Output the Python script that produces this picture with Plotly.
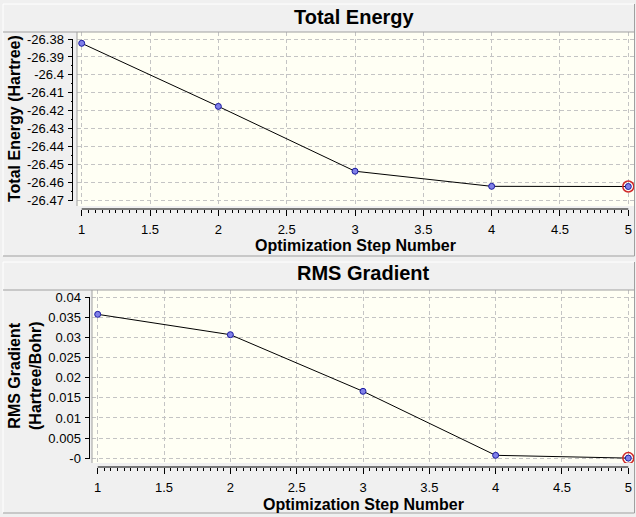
import plotly.graph_objects as go

W, H = 636, 517

steps = [1, 2, 3, 4, 5]
energy = [-26.3824, -26.4175, -26.4536, -26.4620, -26.4621]
rms_grad = [0.0357, 0.03065, 0.01661, 0.00074, 0.00005]

x_tickvals = [1, 1.5, 2, 2.5, 3, 3.5, 4, 4.5, 5]
x_ticktext = ["1", "1.5", "2", "2.5", "3", "3.5", "4", "4.5", "5"]
e_tickvals = [-26.38, -26.39, -26.40, -26.41, -26.42, -26.43, -26.44, -26.45, -26.46, -26.47]
e_ticktext = ["-26.38", "-26.39", "-26.4", "-26.41", "-26.42", "-26.43", "-26.44", "-26.45", "-26.46", "-26.47"]
g_tickvals = [0.04, 0.035, 0.03, 0.025, 0.02, 0.015, 0.01, 0.005, 0.0]
g_ticktext = ["0.04", "0.035", "0.03", "0.025", "0.02", "0.015", "0.01", "0.005", "-0"]

titles = ["Total Energy", "RMS Gradient"]
xtitle = "Optimization Step Number"
ytitles = ["Total Energy (Hartree)", "RMS Gradient<br>(Hartree/Bohr)"]


def px(v):
    return v / W


def py(v):
    return 1 - v / H


FONT = "Liberation Sans, Arial, sans-serif"
GRID = "#c4c4c4"
PLOTBG = "#fffff4"
FRAME = "#a0a0a0"

fig = go.Figure()

marker = dict(size=6, color="#8080e8", line=dict(color="#1a1aa0", width=1))

for i, (ys, xa, ya) in enumerate([(energy, "x", "y"), (rms_grad, "x2", "y2")]):
    fig.add_trace(go.Scatter(x=steps, y=ys, mode="lines+markers", xaxis=xa, yaxis=ya,
                             line=dict(color="black", width=1), marker=marker,
                             showlegend=False, hoverinfo="x+y"))
    fig.add_trace(go.Scatter(x=[steps[-1]], y=[ys[-1]], mode="markers", xaxis=xa, yaxis=ya,
                             marker=dict(symbol="circle-open", size=11,
                                         line=dict(color="#d02828", width=1.5), color="#d02828"),
                             showlegend=False, hoverinfo="skip"))

# pixel geometry of the two panels
top = dict(x0=77, x1=634, y0=32, y1=206, yaxis_x=72.5, xaxis_y=209)
bot = dict(x0=92, x1=634, y0=290, y1=463, yaxis_x=89.5, xaxis_y=467)

xcommon = dict(tickvals=x_tickvals, ticktext=x_ticktext, ticks="outside", ticklen=6,
               tickcolor="black", tickwidth=1, showline=False, zeroline=False,
               showgrid=True, gridcolor=GRID, griddash="4px,3px", gridwidth=1,
               tickfont=dict(family=FONT, size=13, color="black"),
               minor=dict(dtick=0.05, ticks="outside", ticklen=3, tickcolor="black",
                          showgrid=False),
               anchor="free", fixedrange=True, ticklabelstandoff=2, automargin=False)
ycommon = dict(ticks="outside", ticklen=5, tickcolor="black", tickwidth=1,
               showline=False, zeroline=False, showgrid=True, gridcolor=GRID,
               griddash="4px,3px", gridwidth=1,
               tickfont=dict(family=FONT, size=13, color="black"),
               anchor="free", fixedrange=True, ticklabelstandoff=1, automargin=False)


def xr(p, x1px, x5px):
    s = (x5px - x1px) / 4.0
    return [1 - (x1px - p["x0"]) / s, 5 + (p["x1"] - x5px) / s]


def yr(p, vtop, ytop_px, vbot, ybot_px):
    s = (ybot_px - ytop_px) / (vtop - vbot)
    return [vbot - (p["y1"] - ybot_px) / s, vtop + (ytop_px - p["y0"]) / s]


fig.update_layout(
    width=W, height=H, margin=dict(l=0, r=0, t=0, b=0, pad=0),
    paper_bgcolor="#f0f0f0", plot_bgcolor=PLOTBG,
    xaxis=dict(xcommon, domain=[px(top["x0"]), px(top["x1"])], position=py(top["xaxis_y"]),
               range=xr(top, 81.7, 628.3)),
    yaxis=dict(ycommon, domain=[py(top["y1"]), py(top["y0"])], position=px(top["yaxis_x"]),
               tickvals=e_tickvals, ticktext=e_ticktext,
               minor=dict(dtick=0.005, ticks="outside", ticklen=2, tickcolor="black", showgrid=False),
               range=yr(top, -26.38, 39, -26.47, 200.7)),
    xaxis2=dict(xcommon, domain=[px(bot["x0"]), px(bot["x1"])], position=py(bot["xaxis_y"]),
                range=xr(bot, 97.7, 628.3)),
    yaxis2=dict(ycommon, domain=[py(bot["y1"]), py(bot["y0"])], position=px(bot["yaxis_x"]),
                tickvals=g_tickvals, ticktext=g_ticktext,
                range=yr(bot, 0.04, 297, 0.0, 458.3)),
    hovermode="closest",
)

shapes = []
# panel frames
for (fy0, fy1) in [(4, 256), (262, 513)]:
    shapes.append(dict(type="line", xref="paper", yref="paper", x0=px(3), x1=px(634), y0=py(fy0), y1=py(fy0),
                       line=dict(color="white", width=1)))
    shapes.append(dict(type="line", xref="paper", yref="paper", x0=px(3), x1=px(3), y0=py(fy0), y1=py(fy1),
                       line=dict(color="white", width=1)))
    shapes.append(dict(type="line", xref="paper", yref="paper", x0=px(3), x1=px(634.5), y0=py(fy1), y1=py(fy1),
                       line=dict(color=FRAME, width=1)))
    shapes.append(dict(type="line", xref="paper", yref="paper", x0=px(634.5), x1=px(634.5), y0=py(fy0), y1=py(fy1),
                       line=dict(color=FRAME, width=1)))
# plot area top & left edges
for p in (top, bot):
    shapes.append(dict(type="line", xref="paper", yref="paper", x0=px(3), x1=px(634.5), y0=py(p["y0"]), y1=py(p["y0"]),
                       line=dict(color=FRAME, width=1)))
    shapes.append(dict(type="line", xref="paper", yref="paper", x0=px(p["x0"]), x1=px(p["x0"]), y0=py(p["y0"]), y1=py(p["y1"]),
                       line=dict(color=FRAME, width=1)))
# axis lines
shapes.append(dict(type="line", xref="paper", yref="y", x0=px(top["yaxis_x"]), x1=px(top["yaxis_x"]),
                   y0=e_tickvals[0], y1=e_tickvals[-1], line=dict(color="black", width=1)))
shapes.append(dict(type="line", xref="x", yref="paper", x0=steps[0], x1=steps[-1],
                   y0=py(top["xaxis_y"]), y1=py(top["xaxis_y"]), line=dict(color="black", width=1)))
shapes.append(dict(type="line", xref="paper", yref="y2", x0=px(bot["yaxis_x"]), x1=px(bot["yaxis_x"]),
                   y0=g_tickvals[0], y1=g_tickvals[-1], line=dict(color="black", width=1)))
shapes.append(dict(type="line", xref="x2", yref="paper", x0=steps[0], x1=steps[-1],
                   y0=py(bot["xaxis_y"]), y1=py(bot["xaxis_y"]), line=dict(color="black", width=1)))
fig.update_layout(shapes=shapes)

ann = []


def A(text, x, y, size, angle=0):
    ann.append(dict(text=text, x=px(x), y=py(y), xref="paper", yref="paper", showarrow=False,
                    xanchor="center", yanchor="middle", textangle=angle,
                    font=dict(family=FONT, size=size, color="black")))


A("<b>%s</b>" % titles[0], 354.5, 17, 20)
A("<b>%s</b>" % titles[1], 363.5, 273, 20)
A("<b>%s</b>" % xtitle, 355.5, 246, 16)
A("<b>%s</b>" % xtitle, 363.5, 504, 16)
A("<b>%s</b>" % ytitles[0], 14.5, 118.5, 16, -90)
A("<b>RMS Gradient</b><br><b>(Hartree/Bohr)</b>", 24.5, 376.5, 16, -90)
fig.update_layout(annotations=ann)

fig.write_html("out.html", config={"displayModeBar": False},
               post_script="document.body.style.margin='0px';document.body.style.padding='0px';")
